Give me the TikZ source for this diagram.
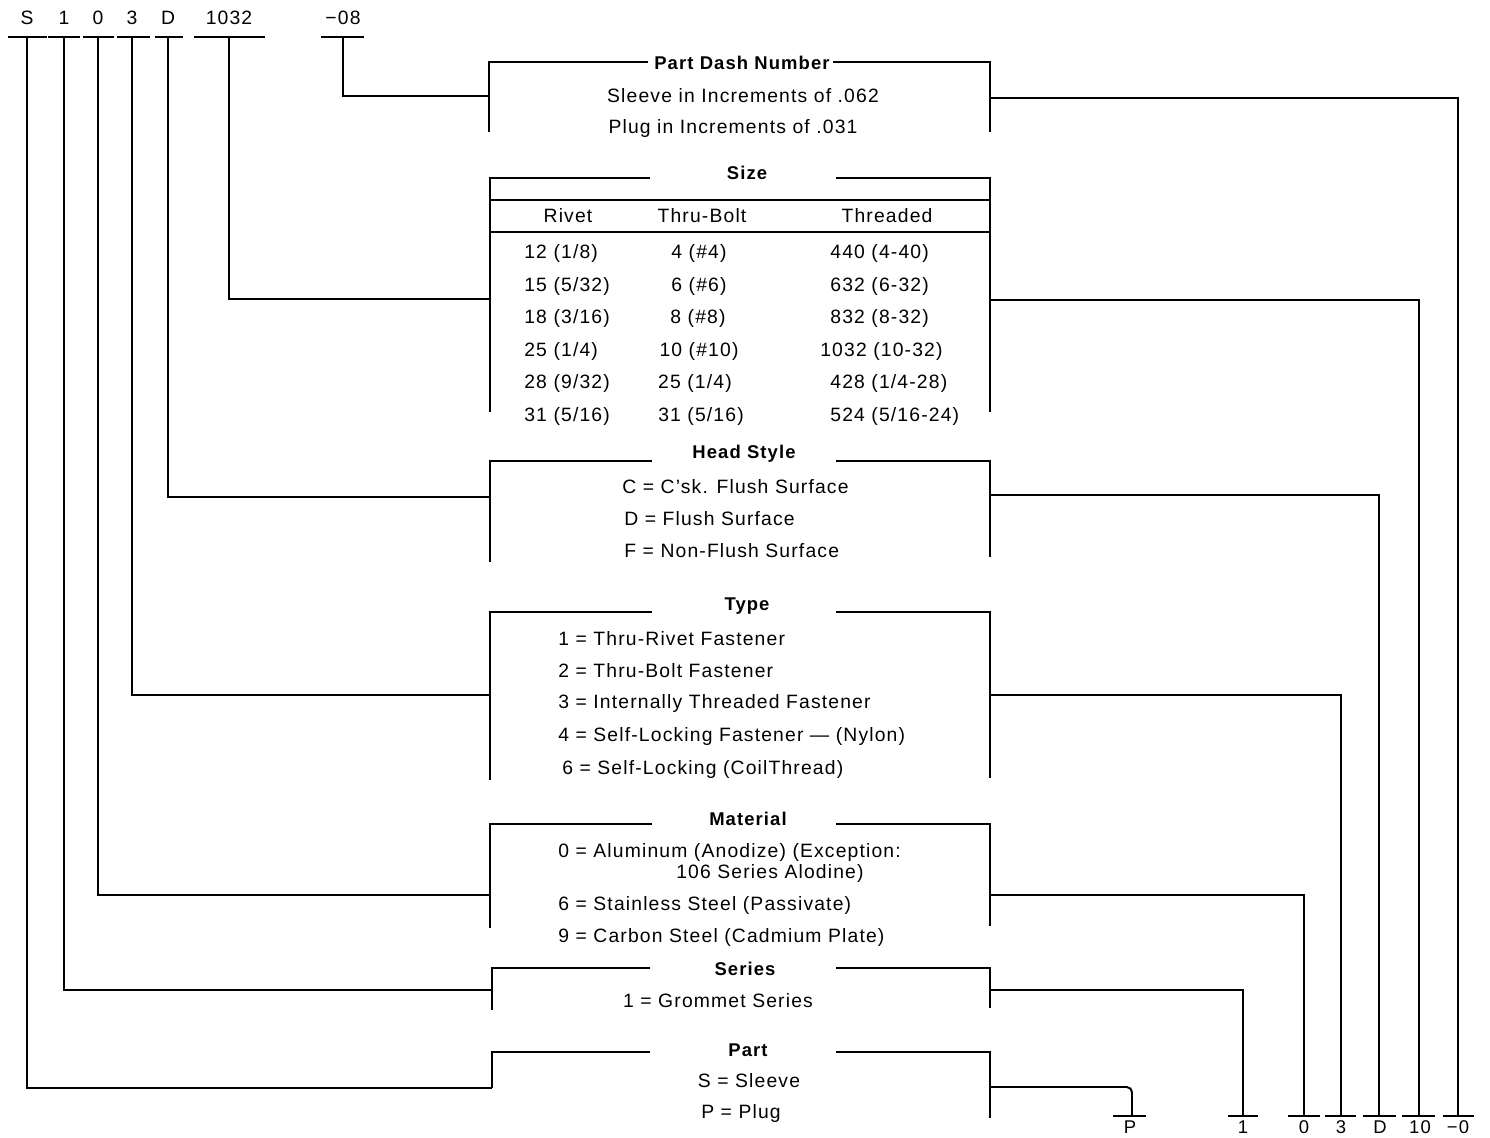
\documentclass[tikz,border=0pt]{standalone}
\usepackage{fontspec}
\setmainfont[LetterSpace=6]{Liberation Sans}
\begin{document}
\begin{tikzpicture}[x=0.02cm,y=-0.02cm,
  txt/.style={font=\fontsize{11}{13}\selectfont, inner sep=0pt},
  btxt/.style={font=\fontsize{10.5}{12}\selectfont, inner sep=0pt},
  lt/.style={txt, anchor=west},
  ttl/.style={font=\fontsize{10.5}{12}\selectfont\bfseries, inner sep=0pt},
  ln/.style={line width=1.1pt},
  conn/.style={line width=1.1pt}]
\useasboundingbox (0,0) rectangle (1490,1137);

% ---- top code ----
\node[txt] (cS) at (27,18) {S};
\node[txt] (c1) at (64,18) {1};
\node[txt] (c0) at (98,18) {0};
\node[txt] (c3) at (132,18) {3};
\node[txt] (cD) at (168,18) {D};
\node[txt] (c1032) at (229,18) {1032};
\node[txt] (c08) at (343,18) {−08};
\draw[ln] (8,37) -- (47,37);
\draw[ln] (48,37) -- (80,37);
\draw[ln] (83,37) -- (114,37);
\draw[ln] (117,37) -- (150,37);
\draw[ln] (155,37) -- (183,37);
\draw[ln] (194,37) -- (265,37);
\draw[ln] (321,37) -- (364,37);
\coordinate (uS) at (27,37);
\coordinate (u1) at (64,37);
\coordinate (u0) at (98,37);
\coordinate (u3) at (132,37);
\coordinate (uD) at (168,37);
\coordinate (u1032) at (229,37);
\coordinate (u08) at (343,37);

% ---- bottom code ----
\node[btxt] (bP) at (1130,1127) {P};
\node[btxt] (b1) at (1243,1127) {1};
\node[btxt] (b0) at (1304,1127) {0};
\node[btxt] (b3) at (1341,1127) {3};
\node[btxt] (bD) at (1380,1127) {D};
\node[btxt] (b10) at (1420,1127) {10};
\node[btxt] (bm0) at (1458,1127) {−0};
\draw[ln] (1113,1116) -- (1146,1116);
\draw[ln] (1228,1116) -- (1258,1116);
\draw[ln] (1288,1116) -- (1320,1116);
\draw[ln] (1325,1116) -- (1356,1116);
\draw[ln] (1363,1116) -- (1396,1116);
\draw[ln] (1402,1116) -- (1435,1116);
\draw[ln] (1443,1116) -- (1474,1116);
\coordinate (dP) at (1132,1116);
\coordinate (d1) at (1243,1116);
\coordinate (d0) at (1304,1116);
\coordinate (d3) at (1341,1116);
\coordinate (dD) at (1379,1116);
\coordinate (d10) at (1419,1116);
\coordinate (dm0) at (1458,1116);

% ---- Part Dash Number ----
\node[ttl] (tPDN) at (742,63) {Part Dash Number};
\draw[ln] (648,62) -- (489,62) -- (489,132);
\draw[ln] (833,62) -- (990,62) -- (990,132);
\node[txt] (pdn1) at (743,96) {Sleeve in Increments of .062};
\node[txt] (pdn2) at (733,128) {Plug in Increments of .031};
\coordinate (pdnL) at (489,96);
\coordinate (pdnR) at (990,98);

% ---- Size ----
\node[ttl] (tSize) at (747,173) {Size};
\draw[ln] (650,178) -- (490,178) -- (490,412);
\draw[ln] (836,178) -- (990,178) -- (990,412);
\draw[ln] (490,200) -- (990,200);
\draw[ln] (490,232) -- (990,232);
\node[txt] (hR) at (568,216) {Rivet};
\node[txt] (hT) at (702,216) {Thru-Bolt};
\node[txt] (hTh) at (887,216) {Threaded};
\node[lt] (r11) at (524,253) {12 (1/8)};
\node[lt] (r21) at (524,286) {15 (5/32)};
\node[lt] (r31) at (524,318) {18 (3/16)};
\node[lt] (r41) at (524,351) {25 (1/4)};
\node[lt] (r51) at (524,383) {28 (9/32)};
\node[lt] (r61) at (524,416) {31 (5/16)};
\node[txt] (r12) at (699,253) {4 (\#4)};
\node[txt] (r22) at (699,286) {6 (\#6)};
\node[txt] (r32) at (698,318) {8 (\#8)};
\node[txt] (r42) at (699,351) {10 (\#10)};
\node[txt] (r52) at (695,383) {25 (1/4)};
\node[txt] (r62) at (701,416) {31 (5/16)};
\node[lt] (r13) at (830,253) {440 (4-40)};
\node[lt] (r23) at (830,286) {632 (6-32)};
\node[lt] (r33) at (830,318) {832 (8-32)};
\node[lt] (r43) at (820,351) {1032 (10-32)};
\node[lt] (r53) at (830,383) {428 (1/4-28)};
\node[lt] (r63) at (830,416) {524 (5/16-24)};
\coordinate (sizeL) at (490,299);
\coordinate (sizeR) at (990,300);

% ---- Head Style ----
\node[ttl] (tHead) at (744,454) {Head Style};
\draw[ln] (652,461) -- (490,461) -- (490,562);
\draw[ln] (836,461) -- (990,461) -- (990,557);
\node[lt] (hs1) at (622,487) {C = C’sk. Flush Surface};
\node[lt] (hs2) at (624,519) {D = Flush Surface};
\node[lt] (hs3) at (624,551) {F = Non-Flush Surface};
\coordinate (headL) at (490,497);
\coordinate (headR) at (990,495);

% ---- Type ----
\node[ttl] (tType) at (747,606) {Type};
\draw[ln] (652,612) -- (490,612) -- (490,780);
\draw[ln] (836,612) -- (990,612) -- (990,778);
\node[lt] (ty1) at (558,639) {1 = Thru-Rivet Fastener};
\node[lt] (ty2) at (558,671) {2 = Thru-Bolt Fastener};
\node[lt] (ty3) at (558,703) {3 = Internally Threaded Fastener};
\node[lt] (ty4) at (558,736) {4 = Self-Locking Fastener — (Nylon)};
\node[lt] (ty6) at (562,769) {6 = Self-Locking (CoilThread)};
\coordinate (typeL) at (490,695);
\coordinate (typeR) at (990,695);

% ---- Material ----
\node[ttl] (tMat) at (748,819) {Material};
\draw[ln] (652,824) -- (490,824) -- (490,928);
\draw[ln] (836,824) -- (990,824) -- (990,926);
\node[lt] (m0) at (558,852) {0 = Aluminum (Anodize) (Exception:};
\node[lt] (m0b) at (676,873) {106 Series Alodine)};
\node[lt] (m6) at (558,905) {6 = Stainless Steel (Passivate)};
\node[lt] (m9) at (558,937) {9 = Carbon Steel (Cadmium Plate)};
\coordinate (matL) at (490,895);
\coordinate (matR) at (990,895);

% ---- Series ----
\node[ttl] (tSer) at (745,969) {Series};
\draw[ln] (650,968) -- (492,968) -- (492,1010);
\draw[ln] (836,968) -- (990,968) -- (990,1008);
\node[txt] (se1) at (718,1001) {1 = Grommet Series};
\coordinate (serL) at (492,990);
\coordinate (serR) at (990,990);

% ---- Part ----
\node[ttl] (tPart) at (748,1050) {Part};
\draw[ln] (650,1052) -- (492,1052) -- (492,1088);
\draw[ln] (836,1052) -- (990,1052) -- (990,1118);
\node[txt] (pa1) at (749,1081) {S = Sleeve};
\node[txt] (pa2) at (741,1113) {P = Plug};
\coordinate (partL) at (492,1088);
\coordinate (partR) at (990,1087);

% ---- connectors ----
\draw[conn] (u08) |- (pdnL);
\draw[conn] (u1032) |- (sizeL);
\draw[conn] (uD) |- (headL);
\draw[conn] (u3) |- (typeL);
\draw[conn] (u0) |- (matL);
\draw[conn] (u1) |- (serL);
\draw[conn] (uS) |- (partL);
\draw[conn] (pdnR) -| (dm0);
\draw[conn] (sizeR) -| (d10);
\draw[conn] (headR) -| (dD);
\draw[conn] (typeR) -| (d3);
\draw[conn] (matR) -| (d0);
\draw[conn] (serR) -| (d1);
\draw[conn, rounded corners=3] (partR) -| (dP);
\end{tikzpicture}
\end{document}
